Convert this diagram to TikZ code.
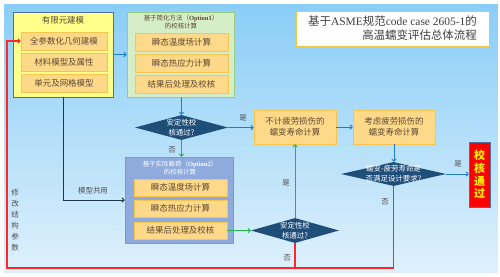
\documentclass[tikz,border=0pt]{standalone}
\usepackage{fontspec}
\setmainfont{Noto Sans CJK SC}
\newfontfamily\lat{Liberation Serif}
\usetikzlibrary{shapes.geometric,arrows.meta}
\definecolor{bgtop}{RGB}{138,206,247}
\definecolor{bgbot}{RGB}{222,240,252}
\definecolor{orfill}{RGB}{255,217,138}
\definecolor{ordraw}{RGB}{248,196,80}
\definecolor{boxtxt}{RGB}{90,72,50}
\definecolor{yelfill}{RGB}{255,255,140}
\definecolor{yeldraw}{RGB}{80,110,160}
\definecolor{grfill}{RGB}{214,238,200}
\definecolor{grdraw}{RGB}{150,205,130}
\definecolor{pufill}{RGB}{143,170,220}
\definecolor{pudraw}{RGB}{125,150,205}
\definecolor{dmfill}{RGB}{31,78,121}
\definecolor{arblue}{RGB}{30,125,210}
\definecolor{argreen}{RGB}{34,180,80}
\definecolor{arred}{RGB}{250,40,40}
\definecolor{ardark}{RGB}{30,55,70}
\definecolor{lbltxt}{RGB}{80,80,80}
\definecolor{titledraw}{RGB}{240,200,60}
\tikzset{
  innerbox/.style={draw=ordraw, fill=orfill, line width=0.8pt, minimum width=93bp, minimum height=18bp, inner sep=0pt, text=boxtxt, font=\fontsize{8.5}{10}\selectfont, align=center},
  container/.style={line width=0.8pt, inner sep=0pt},
  decision/.style={diamond, fill=dmfill, inner sep=0pt},
  dtext/.style={text=white, font=\fontsize{7.5}{10}\selectfont, align=center, inner sep=0pt},
  lbl/.style={text=lbltxt, font=\fontsize{7.5}{9}\selectfont, inner sep=0pt},
  conn/.style={line width=0.9pt, -{To[length=3pt,width=5pt]}},
}
\begin{document}
\begin{tikzpicture}[x=1bp,y=-1bp]
\useasboundingbox (0,0) rectangle (500,276);
\fill[white] (0,0) rectangle (500,276);
\foreach \i in {0,...,44} {
  \pgfmathsetmacro{\p}{\i/44*100}
  \pgfmathsetmacro{\ya}{4+\i*269/45}
  \pgfmathsetmacro{\yb}{4+(\i+1)*269/45+0.4}
  \fill[bgbot!\p!bgtop] (4,\ya) rectangle (498,{min(\yb,273)});
}

% title
\node[draw=titledraw, fill=white, line width=0.9pt, minimum width=193bp, minimum height=35bp, inner sep=0pt, align=right, text=lbltxt!80!black, font=\fontsize{11.5}{14}\selectfont] (title) at (392.5,28.5)
  {基于{\lat ASME}规范{\lat code case 2605-1}的\\高温蠕变评估总体流程};

% left box
\node[container, draw=yeldraw, fill=yelfill, minimum width=100bp, minimum height=85bp] (lb) at (63,54.5) {};
\node[text=boxtxt, font=\fontsize{8.5}{10}\selectfont, inner sep=0pt] (lbt) at (63,20) {有限元建模};
\node[innerbox, minimum width=86bp] (lb1) at (64,41) {全参数化几何建模};
\node[innerbox, minimum width=86bp] (lb2) at (64,62.5) {材料模型及属性};
\node[innerbox, minimum width=86bp] (lb3) at (64,83.5) {单元及网格模型};

% option1
\node[container, draw=grdraw, fill=grfill, minimum width=107bp, minimum height=85bp] (op1) at (180.5,54.5) {};
\node[text=boxtxt, font=\fontsize{6.5}{8}\selectfont, align=center, inner sep=0pt] (op1t) at (181,22) {基于简化方法（{\lat\bfseries Option1}）\\的校核计算};
\node[innerbox] (o11) at (181.5,42) {瞬态温度场计算};
\node[innerbox] (o12) at (181.5,63) {瞬态热应力计算};
\node[innerbox] (o13) at (181.5,84) {结果后处理及校核};

% decision 1
\node[decision, minimum width=93bp, minimum height=25bp] (d1) at (181.5,127.5) {};
\node[dtext] (d1t) at (d1.center) {安定性校\\核通过?};

% option2
\node[container, draw=pudraw, fill=pufill, minimum width=108bp, minimum height=86bp] (op2) at (179,200) {};
\node[text=white, font=\fontsize{6.5}{8}\selectfont, align=center, inner sep=0pt] (op2t) at (180,168) {基于实际载荷（{\lat\bfseries Option2}）\\的校核计算};
\node[innerbox, minimum height=17bp] (o21) at (180.5,187.5) {瞬态温度场计算};
\node[innerbox, minimum height=17bp] (o22) at (180.5,208.5) {瞬态热应力计算};
\node[innerbox, minimum height=17bp] (o23) at (180.5,230.5) {结果后处理及校核};

% life boxes
\node[innerbox, minimum width=82bp, minimum height=34bp, font=\fontsize{8.5}{11}\selectfont] (nb) at (295,127) {不计疲劳损伤的\\蠕变寿命计算};
\node[innerbox, minimum width=82bp, minimum height=34bp, font=\fontsize{8.5}{11}\selectfont] (kb) at (394,127) {考虑疲劳损伤的\\蠕变寿命计算};

% decision 2, 3
\node[decision, minimum width=105bp, minimum height=24bp] (d2) at (393.5,174) {};
\node[dtext] (d2t) at (d2.center) {蠕变-疲劳寿命是\\否满足设计要求?};
\node[decision, minimum width=88bp, minimum height=25bp] (d3) at (295,230.5) {};
\node[dtext] (d3t) at (d3.center) {安定性校\\核通过?};

% pass box
\node[draw=yeldraw, fill=red, line width=0.8pt, minimum width=21bp, minimum height=65bp, inner sep=0pt, text=yellow, font=\fontsize{11}{12.7}\selectfont\bfseries, align=center] (pass) at (479.5,174.5) {校\\核\\通\\过};

% connectors
\draw[conn, arblue] (lb.east) -- (op1.west);
\draw[conn, arblue] (d1.north |- op1.south) -- (d1.north);
\draw[conn, arblue] (d1.east) -- (d1.east -| nb.west);
\draw[conn, argreen] (d1.south) -- (d1.south |- op2.north);
\draw[conn, ardark] (lb.south) |- (op2.west);
\draw[conn, argreen] (o23.east) -- (d3.west);
\draw[conn, argreen] (d3.north) -- (nb.south);
\draw[conn, arblue] (nb.east) -- (kb.west);
\draw[conn, arblue] (kb.south) -- (kb.south |- d2.north);
\draw[conn, arblue] (d2.east) -- (d2.east -| pass.west);

\coordinate (rbl) at (7,268);
\coordinate (rtl) at (7,41);
\draw[arred, line width=1.1pt, -{To[length=3pt,width=5pt]}] (d2.south) |- (rbl) -- (rtl) -- (lb1.west);
\draw[arred, line width=1.1pt] (d3.south) -- (d3.south |- rbl);

% labels
\node[lbl] (l1) at (243,118) {是};
\node[lbl] (l2) at (172,150) {否};
\node[lbl] (l3) at (93,191) {模型共用};
\node[lbl] (l4) at (286,183) {是};
\node[lbl] (l5) at (287,258) {否};
\node[lbl] (l6) at (385,202) {否};
\node[lbl] (l7) at (458,164) {是};
\node[lbl, align=center, font=\fontsize{7.5}{11}\selectfont] (l8) at (15,220.5) {修\\改\\结\\构\\参\\数};
\end{tikzpicture}
\end{document}
